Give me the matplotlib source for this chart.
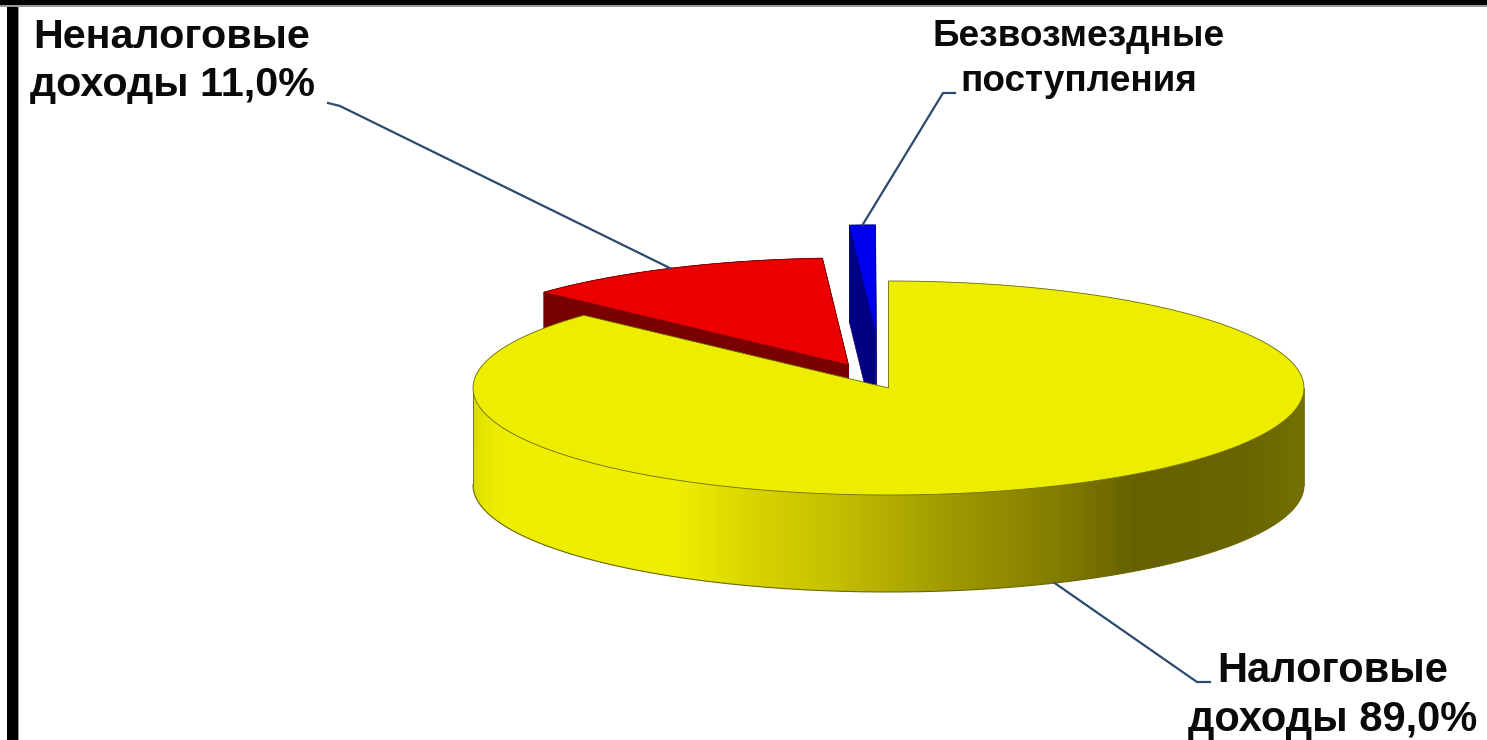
import numpy as np
import matplotlib
matplotlib.use('Agg')
import matplotlib.pyplot as plt
from matplotlib.colors import LinearSegmentedColormap
from matplotlib.patches import PathPatch, Rectangle
from matplotlib.path import Path

# Datos: la parte visible de cada sector (%), clockwise desde arriba
categorias = ['Налоговые', 'Неналоговые', 'Безвозмездные']
partes = [86.9, 12.1, 1.0]
etiquetas = ['Налоговые\nдоходы 89,0%', 'Неналоговые\nдоходы 11,0%', 'Безвозмездные\nпоступления']

# Geometria del pastel en pixeles
W, H = 1487, 740
cx, cy, rx, ry, prof = 888.5, 388, 415.5, 107, 97
despl = [(0, 0), (-40, -23), (-13, -56)]
tapa = ['#EDED00', '#EA0000', '#0000F0']
lado = ['#8C8800', '#7A0000', '#000080']
borde = ['#6B6800', '#7A0000', '#0000A0']
linea = '#2A4A6E'

fin = 360 * np.cumsum(partes) / sum(partes)
ini = np.r_[0, fin[:-1]]

plt.rcParams['font.family'] = ['Liberation Sans', 'DejaVu Sans']
fig = plt.figure(figsize=(W / 100, H / 100), dpi=100)
ax = fig.add_axes([0, 0, 1, 1])
ax.set_xlim(0, W)
ax.set_ylim(H, 0)
ax.axis('off')


def punto(t, c):
    t = np.radians(t)
    return c[0] + rx * np.sin(t), c[1] - ry * np.cos(t)


def sector(a, b, c):
    x, y = punto(np.linspace(a, b, 200), c)
    return np.r_[c[0], x, c[0]], np.r_[c[1], y, c[1]]


def poligono(x, y, z, **kw):
    p = PathPatch(Path(np.c_[x, y]), zorder=z, **kw)
    ax.add_patch(p)
    return p


# Cuerpo de los sectores separados: azul y rojo quedan detras del amarillo
for i in (2, 1):
    c = (cx + despl[i][0], cy + despl[i][1])
    x0, y0 = punto(ini[i], c)
    poligono([x0, x0, c[0], c[0], x0], [y0, y0 + prof, c[1] + prof, c[1], y0],
             2, fc=lado[i], ec=lado[i], lw=0.5)
    x, y = punto(np.linspace(ini[i], fin[i], 80), c)
    poligono(np.r_[x, x[::-1]], np.r_[y, y[::-1] + prof], 2, fc=lado[i], ec=lado[i], lw=0.5)
    x1, y1 = punto(fin[i], c)
    poligono([x1, x1, c[0], c[0], x1], [y1, y1 + prof, c[1] + prof, c[1], y1],
             2, fc=lado[i], ec=lado[i], lw=0.5)
    sx, sy = sector(ini[i], fin[i], c)
    poligono(sx, sy, 3, fc=tapa[i], ec=borde[i], lw=0.6)

# Pared frontal amarilla con degradado
c0 = (cx, cy)
x, y = punto(np.linspace(90, 270, 400), c0)
pared = poligono(np.r_[x, x[::-1]], np.r_[y, y[::-1] + prof], 4, fc='none', ec='none')
stops = [(473, '#DCDC00'), (485, '#E8E800'), (500, '#EEEE00'), (680, '#EEEE00'), (760, '#D6D200'),
         (830, '#C6C100'), (950, '#A09A00'), (1060, '#827C00'), (1140, '#666000'), (1250, '#6A6500'),
         (1304, '#747000')]
cmap = LinearSegmentedColormap.from_list('pared', [((s[0] - 473) / (1304 - 473), s[1]) for s in stops])
img = ax.imshow(np.linspace(0, 1, 512)[None, :], cmap=cmap, aspect='auto', zorder=4,
                extent=(473, 1304, cy + prof + ry + 2, cy - 2))
img.set_clip_path(pared)
ax.set_xlim(0, W)
ax.set_ylim(H, 0)
x, y = punto(np.linspace(90, 270, 400), c0)
ax.plot(x, y + prof, color='#6B6800', lw=0.8, zorder=5)
ax.plot([x[0], x[0]], [y[0], y[0] + prof], color='#6B6800', lw=0.6, zorder=5)
ax.plot([x[-1], x[-1]], [y[-1], y[-1] + prof], color='#6B6800', lw=0.6, zorder=5)

# Tapa amarilla
sx, sy = sector(ini[0], fin[0], c0)
poligono(sx, sy, 6, fc=tapa[0], ec=borde[0], lw=0.6)

# Lineas guia, ancladas a la mitad del arco de cada sector
medio = (ini + fin) / 2
ax0 = punto(medio[0], c0)
anclas = [(ax0[0], ax0[1] + prof),
          punto(medio[1], (cx + despl[1][0], cy + despl[1][1])),
          punto(medio[2], (cx + despl[2][0], cy + despl[2][1]))]
codos = [[(1197, 682), (1210, 682)], [(340, 106), (328, 103)], [(943, 93), (955, 93)]]
for a, k in zip(anclas, codos):
    ax.plot([a[0], k[0][0], k[1][0]], [a[1], k[0][1], k[1][1]], color=linea, lw=1.6, zorder=7,
            solid_joinstyle='round')

# Textos
ax.text(1333, 695.5, etiquetas[0], fontsize=30, fontweight='bold', ha='center', va='center',
        linespacing=1.3, color='#0A0A0A', zorder=8)
ax.text(172, 61, etiquetas[1], fontsize=29.7, fontweight='bold', ha='center', va='center',
        linespacing=1.35, color='#0A0A0A', zorder=8)
ax.text(1079, 59, etiquetas[2], fontsize=26.6, fontweight='bold', ha='center', va='center',
        linespacing=1.39, color='#0A0A0A', zorder=8)

# Marco negro del recuadro
ax.add_patch(Rectangle((7, 0), 11, H, fc='black', ec='none', zorder=9))
ax.add_patch(Rectangle((18, 0), 1, H, fc='#999999', ec='none', zorder=9))
ax.add_patch(Rectangle((0, 0), W, 5, fc='black', ec='none', zorder=9))
ax.add_patch(Rectangle((0, 5), W, 2, fc='#999999', ec='none', zorder=9))

fig.savefig('out.png', dpi=100)
